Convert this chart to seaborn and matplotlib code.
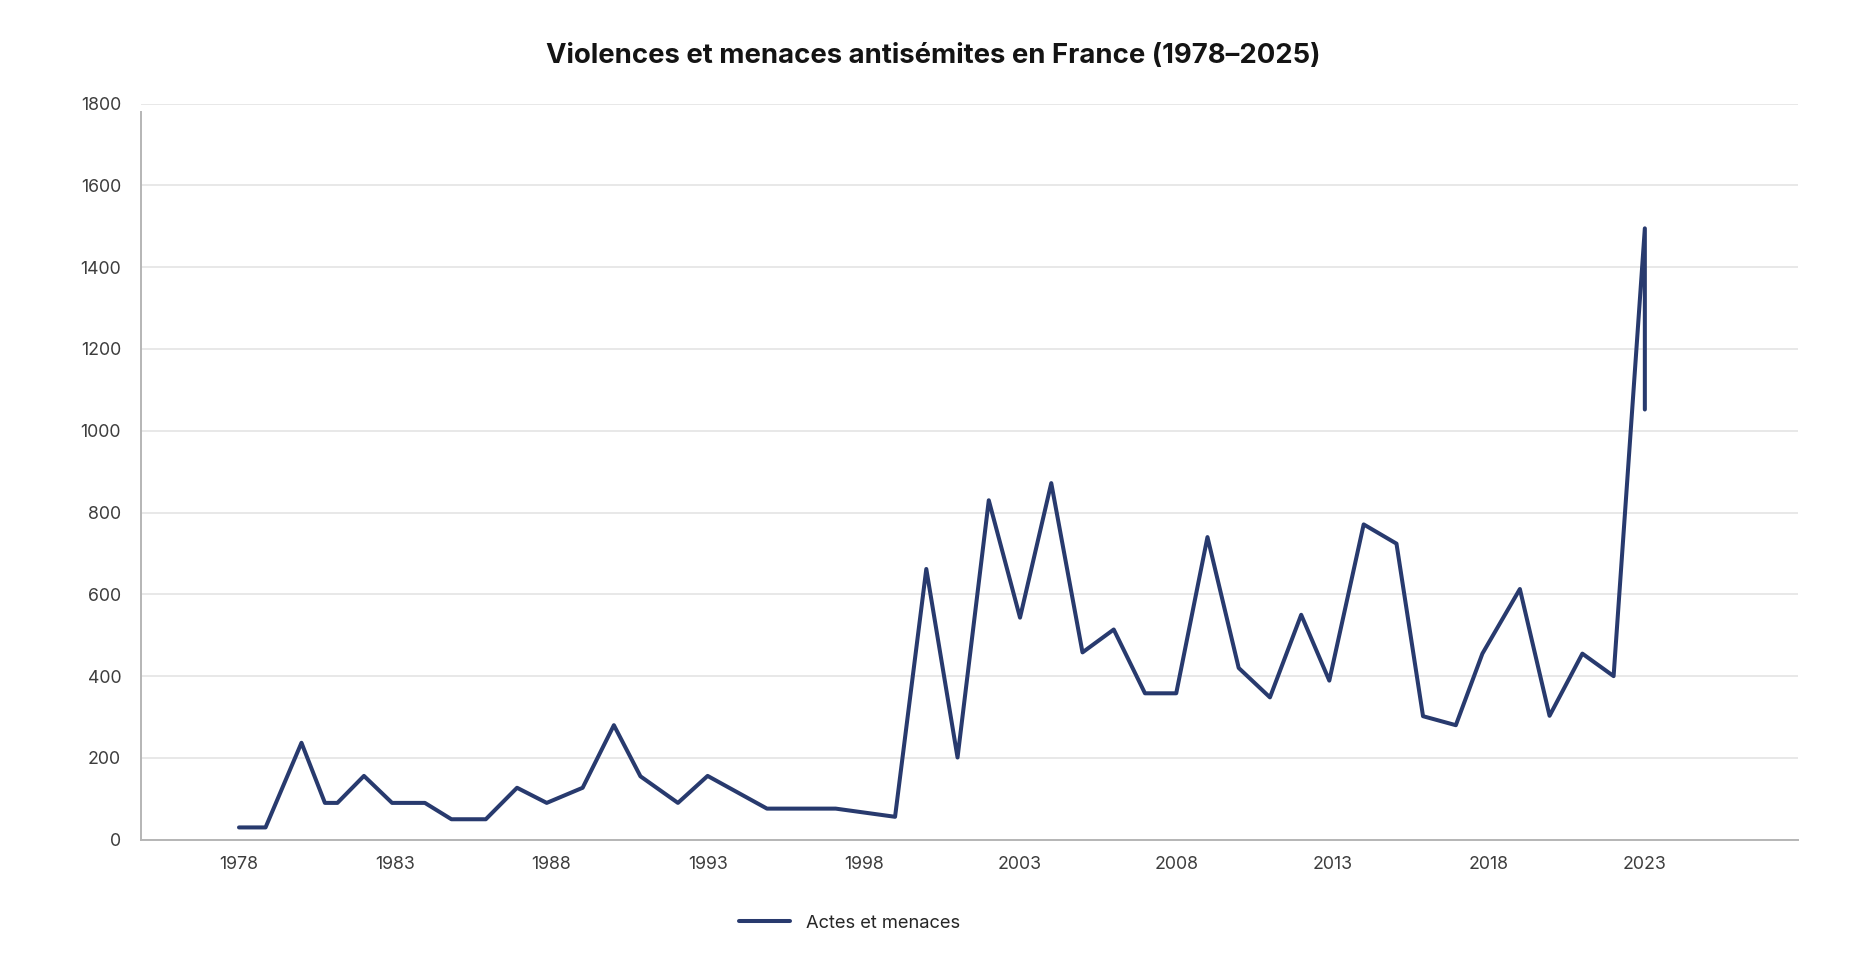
import pandas as pd
import seaborn as sns
import matplotlib.pyplot as plt

# Données (années décimales telles que tracées)
annees = [1978, 1978.85, 1980, 1980.75, 1981.15, 1982, 1982.9, 1983.95, 1984.8, 1985.9,
          1986.9, 1987.85, 1989, 1990, 1990.85, 1992.05, 1993, 1994.9, 1997.1, 1999,
          2000, 2001, 2002, 2003, 2004, 2005, 2006, 2007, 2008, 2009,
          2010, 2011, 2012, 2012.9, 2014, 2015.05, 2015.9, 2016.95, 2017.8, 2019,
          2019.95, 2021, 2022, 2023, 2023]
actes = [30, 30, 237, 90, 90, 156, 90, 90, 50, 50,
         127, 90, 127, 280, 155, 90, 156, 76, 76, 56,
         662, 201, 830, 543, 872, 458, 514, 358, 358, 740,
         420, 348, 550, 389, 771, 724, 302, 280, 455, 613,
         303, 455, 400, 1495, 1052]
ticks_x = [1978, 1983, 1988, 1993, 1998, 2003, 2008, 2013, 2018, 2023]
ticks_y = [0, 200, 400, 600, 800, 1000, 1200, 1400, 1600, 1800]

df = pd.DataFrame({"Année": annees, "Actes": actes})

sns.set_theme(style="whitegrid")
plt.rcParams['font.family'] = ['Inter', 'DejaVu Sans']

fig = plt.figure(figsize=(18.67, 9.73), dpi=100)
ax = fig.add_axes([0.0753, 0.137, 0.8877, 0.7565])

sns.lineplot(data=df, x="Année", y="Actes", estimator=None, sort=False,
             color="#283a6e", linewidth=2.9, label="Actes et menaces", ax=ax)

ax.set_xlim(1974.85, 2027.9)
ax.set_ylim(0, 1800)
ax.set_xticks(ticks_x)
ax.set_yticks(ticks_y)
ax.set_xlabel("")
ax.set_ylabel("")
ax.grid(axis="x", visible=False)
ax.grid(axis="y", color="#e6e6e6", linewidth=1.3)
ax.tick_params(axis="both", length=0, labelsize=12.8, labelcolor="#3d3d3d")
ax.tick_params(axis="y", pad=14)
ax.tick_params(axis="x", pad=12)

for s in ["top", "right"]:
    ax.spines[s].set_visible(False)
ax.spines["left"].set_color("#b5b5b5")
ax.spines["bottom"].set_color("#b5b5b5")
ax.spines["left"].set_linewidth(1.4)
ax.spines["bottom"].set_linewidth(1.4)
ax.spines["left"].set_bounds(0, 1780)

fig.suptitle("Violences et menaces antisémites en France (1978–2025)",
             x=0.5, y=0.956, fontsize=19.8, fontweight="bold", color="#141414")

ax.legend(loc="center", bbox_to_anchor=(0.455, 0.051), bbox_transform=fig.transFigure,
          frameon=False, fontsize=13.2, handlelength=2.8, handletextpad=0.9)

fig.savefig("out.png", dpi=100)
